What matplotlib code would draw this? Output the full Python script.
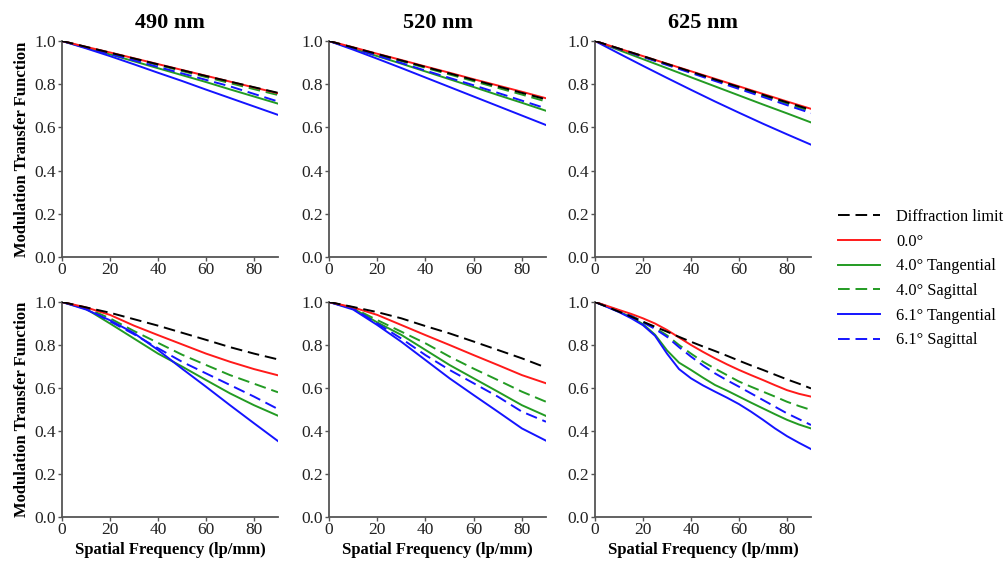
#!/usr/bin/env python3

# MTF curves at three wavelengths, on-axis and off-axis fields.

import matplotlib
matplotlib.use('Agg')
import matplotlib.pyplot
import numpy

FONT_FAMILY = 'Liberation Serif'

WAVELENGTHS = ['490 nm', '520 nm', '625 nm']
SERIES_LABELS = ['Diffraction limit', '0.0°', '4.0° Tangential', '4.0° Sagittal',
                 '6.1° Tangential', '6.1° Sagittal']

FREQ = [0, 10, 20, 30, 40, 50, 60, 70, 80, 90]
FREQ_FINE = [0, 5, 10, 15, 20, 25, 30, 35, 40, 45, 50, 55, 60, 65, 70, 75, 80, 85, 90]

# Top row (design), one list per series, in SERIES_LABELS order.
TOP_490 = [
    [1.0, 0.973, 0.946, 0.919, 0.892, 0.865, 0.838, 0.812, 0.786, 0.760],
    [1.0, 0.973, 0.947, 0.920, 0.893, 0.866, 0.839, 0.812, 0.785, 0.758],
    [1.0, 0.969, 0.938, 0.906, 0.874, 0.842, 0.810, 0.776, 0.743, 0.710],
    [1.0, 0.972, 0.945, 0.917, 0.889, 0.861, 0.833, 0.805, 0.777, 0.750],
    [1.0, 0.966, 0.930, 0.892, 0.853, 0.815, 0.775, 0.736, 0.697, 0.658],
    [1.0, 0.970, 0.940, 0.910, 0.880, 0.850, 0.820, 0.790, 0.755, 0.720],
]
TOP_520 = [
    [1.0, 0.970, 0.940, 0.910, 0.880, 0.850, 0.820, 0.790, 0.760, 0.730],
    [1.0, 0.971, 0.941, 0.912, 0.882, 0.853, 0.823, 0.794, 0.765, 0.735],
    [1.0, 0.965, 0.930, 0.895, 0.859, 0.823, 0.787, 0.750, 0.714, 0.677],
    [1.0, 0.969, 0.938, 0.907, 0.876, 0.845, 0.814, 0.783, 0.752, 0.720],
    [1.0, 0.960, 0.918, 0.875, 0.831, 0.787, 0.743, 0.699, 0.655, 0.611],
    [1.0, 0.966, 0.932, 0.898, 0.863, 0.829, 0.795, 0.760, 0.724, 0.688],
]
TOP_625 = [
    [1.0, 0.965, 0.930, 0.894, 0.858, 0.822, 0.787, 0.751, 0.716, 0.681],
    [1.0, 0.965, 0.930, 0.895, 0.860, 0.825, 0.790, 0.755, 0.720, 0.686],
    [1.0, 0.958, 0.916, 0.874, 0.832, 0.790, 0.748, 0.706, 0.665, 0.623],
    [1.0, 0.964, 0.928, 0.892, 0.856, 0.819, 0.783, 0.747, 0.710, 0.674],
    [1.0, 0.942, 0.885, 0.829, 0.774, 0.720, 0.668, 0.617, 0.568, 0.520],
    [1.0, 0.963, 0.926, 0.889, 0.852, 0.815, 0.778, 0.741, 0.703, 0.666],
]

# Bottom row (as built).
BOTTOM_490 = [
    [1.0, 0.975, 0.950, 0.920, 0.890, 0.857, 0.824, 0.790, 0.760, 0.733],
    [1.0, 0.975, 0.940, 0.890, 0.846, 0.803, 0.760, 0.722, 0.688, 0.659],
    [1.0, 0.968, 0.900, 0.830, 0.760, 0.700, 0.637, 0.575, 0.520, 0.471],
    [1.0, 0.972, 0.924, 0.865, 0.810, 0.755, 0.707, 0.660, 0.620, 0.580],
    [1.0, 0.965, 0.915, 0.855, 0.777, 0.690, 0.606, 0.520, 0.436, 0.353],
    [1.0, 0.970, 0.910, 0.850, 0.785, 0.722, 0.668, 0.614, 0.560, 0.502],
]
BOTTOM_520 = [
    [1.0, 0.977, 0.953, 0.924, 0.888, 0.854, 0.816, 0.777, 0.738, 0.695],
    [1.0, 0.975, 0.940, 0.893, 0.846, 0.800, 0.753, 0.707, 0.660, 0.622],
    [1.0, 0.970, 0.905, 0.847, 0.777, 0.707, 0.645, 0.583, 0.520, 0.470],
    [1.0, 0.972, 0.916, 0.862, 0.808, 0.746, 0.690, 0.637, 0.583, 0.536],
    [1.0, 0.965, 0.893, 0.815, 0.730, 0.645, 0.567, 0.490, 0.412, 0.355],
    [1.0, 0.970, 0.900, 0.830, 0.753, 0.684, 0.622, 0.560, 0.490, 0.443],
]
BOTTOM_625 = [
    [1.0, 0.978, 0.955, 0.932, 0.908, 0.885, 0.862, 0.838, 0.815, 0.793,
     0.772, 0.750, 0.727, 0.705, 0.684, 0.662, 0.640, 0.620, 0.598],
    [1.0, 0.982, 0.963, 0.945, 0.924, 0.900, 0.870, 0.835, 0.800, 0.768,
     0.738, 0.710, 0.684, 0.660, 0.637, 0.613, 0.590, 0.573, 0.560],
    [1.0, 0.978, 0.955, 0.930, 0.897, 0.848, 0.775, 0.718, 0.684, 0.648,
     0.614, 0.588, 0.560, 0.532, 0.505, 0.478, 0.452, 0.430, 0.412],
    [1.0, 0.980, 0.960, 0.937, 0.908, 0.880, 0.845, 0.800, 0.760, 0.722,
     0.690, 0.660, 0.630, 0.606, 0.583, 0.560, 0.536, 0.516, 0.498],
    [1.0, 0.977, 0.953, 0.925, 0.892, 0.843, 0.760, 0.688, 0.645, 0.612,
     0.583, 0.555, 0.525, 0.490, 0.452, 0.412, 0.376, 0.345, 0.316],
    [1.0, 0.980, 0.960, 0.935, 0.905, 0.875, 0.838, 0.790, 0.746, 0.705,
     0.668, 0.636, 0.606, 0.575, 0.544, 0.513, 0.482, 0.455, 0.428],
]

TOP_ROW = [TOP_490, TOP_520, TOP_625]
BOTTOM_ROW = [BOTTOM_490, BOTTOM_520, BOTTOM_625]
BOTTOM_FREQ = [FREQ, FREQ, FREQ_FINE]

SERIES_STYLES = [
    {'color': 'black', 'linestyle': (0, (6, 3)), 'zorder': 4},
    {'color': '#ff1a1a', 'linestyle': '-', 'zorder': 3},
    {'color': '#239b23', 'linestyle': '-', 'zorder': 2},
    {'color': '#239b23', 'linestyle': (0, (6, 3)), 'zorder': 2},
    {'color': '#1414ff', 'linestyle': '-', 'zorder': 2},
    {'color': '#1414ff', 'linestyle': (0, (6, 3)), 'zorder': 2},
]

FIG_W = 1008
FIG_H = 567
COLUMN_X = [(62, 278), (329, 546), (595, 811)]
ROW_Y = [(41, 257), (302, 517)]


def styleAxis(axis):
    axis.set_xlim(0, 90)
    axis.set_ylim(0, 1.0)
    axis.set_xticks([0, 20, 40, 60, 80])
    axis.set_yticks(numpy.arange(0, 1.01, 0.2))
    axis.yaxis.set_major_formatter(matplotlib.ticker.FormatStrFormatter('%.1f'))
    axis.spines['top'].set_visible(False)
    axis.spines['right'].set_visible(False)
    for side in ['left', 'bottom']:
        axis.spines[side].set_color('#555555')
        axis.spines[side].set_linewidth(1.3)
    axis.tick_params(direction = 'out', length = 3, width = 1, color = '#555555',
                     labelsize = 12.5, pad = 1.5, labelcolor = '#222222')
    axis.tick_params(axis = 'x', pad = 0.5)
    for label in axis.get_xticklabels() + axis.get_yticklabels():
        label.set_fontfamily(FONT_FAMILY)


def main():
    matplotlib.pyplot.rcParams['font.family'] = [FONT_FAMILY, 'DejaVu Sans']
    figure = matplotlib.pyplot.figure(figsize = (FIG_W / 100, FIG_H / 100), dpi = 100)

    for rowIndex, (yTop, yBottom) in enumerate(ROW_Y):
        for colIndex, (xLeft, xRight) in enumerate(COLUMN_X):
            rect = [xLeft / FIG_W, 1 - yBottom / FIG_H,
                    (xRight - xLeft) / FIG_W, (yBottom - yTop) / FIG_H]
            axis = figure.add_axes(rect)

            if rowIndex == 0:
                data = TOP_ROW[colIndex]
                freq = FREQ
            else:
                data = BOTTOM_ROW[colIndex]
                freq = BOTTOM_FREQ[colIndex]

            for label, values, style in zip(SERIES_LABELS, data, SERIES_STYLES):
                axis.plot(freq, values, label = label, linewidth = 1.4, **style)

            styleAxis(axis)

            if rowIndex == 0:
                axis.set_title(WAVELENGTHS[colIndex], fontsize = 16, fontweight = 'bold', pad = 9)
            else:
                axis.set_xlabel('Spatial Frequency (lp/mm)', fontsize = 12, fontweight = 'bold', labelpad = 3)
            if colIndex == 0:
                axis.set_ylabel('Modulation Transfer Function', fontsize = 12, fontweight = 'bold', labelpad = 3)

            if rowIndex == 0 and colIndex == 0:
                handles, labels = axis.get_legend_handles_labels()

    figure.legend(handles, labels, loc = 'upper left', bbox_to_anchor = (838 / FIG_W, 1 - 209 / FIG_H),
                  frameon = False, fontsize = 11.8, handlelength = 2.55, handletextpad = 1.0,
                  labelspacing = 0.53, borderpad = 0, borderaxespad = 0)

    figure.savefig('out.png', dpi = 100)


if (__name__ == '__main__'):
    main()
